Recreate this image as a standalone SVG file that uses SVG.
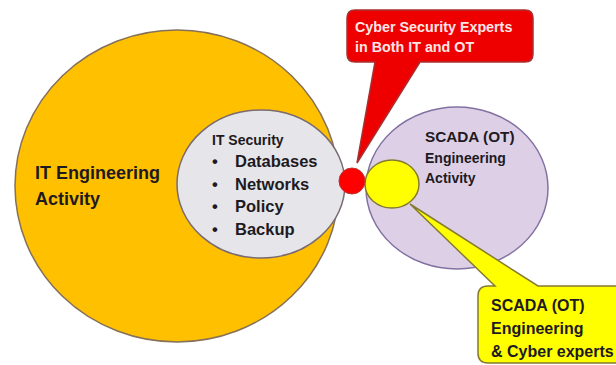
<svg xmlns="http://www.w3.org/2000/svg" width="616" height="365" viewBox="0 0 616 365">
<style>
text{font-family:"Liberation Sans",Arial,sans-serif;font-weight:bold;fill:#1e1a22}
.w{fill:#fde6e6}
</style>
<rect width="616" height="365" fill="#ffffff"/>
<g id="it-engineering">
<ellipse cx="177" cy="186" rx="162" ry="156" fill="#ffc000" stroke="#85705a" stroke-width="1.5"/>
<text x="35" y="179" font-size="18">IT Engineering</text>
<text x="35" y="205" font-size="18">Activity</text>
</g>
<g id="it-security">
<ellipse cx="261" cy="184" rx="84" ry="74" fill="#e6e6ea" stroke="#7a6a72" stroke-width="1.5"/>
<text x="212" y="145" font-size="14">IT Security</text>
<g font-size="16.5">
<text x="212" y="167">•</text><text x="235" y="167">Databases</text>
<text x="212" y="190">•</text><text x="235" y="190">Networks</text>
<text x="212" y="212">•</text><text x="235" y="212">Policy</text>
<text x="212" y="235">•</text><text x="235" y="235">Backup</text>
</g>
</g>
<g id="scada">
<ellipse cx="457" cy="188" rx="91" ry="81" fill="#ddd0e6" stroke="#8272a2" stroke-width="1.5"/>
<text x="425" y="142" font-size="15.3">SCADA (OT)</text>
<text x="425" y="163" font-size="14">Engineering</text>
<text x="425" y="183" font-size="14">Activity</text>
</g>
<g id="scada-cyber-dot">
<ellipse cx="392" cy="184" rx="27" ry="24" fill="#ffff00" stroke="#857a30" stroke-width="1.5"/>
</g>
<g id="both-dot">
<circle cx="352" cy="181" r="13" fill="#ff0000" stroke="#c03030" stroke-width="1"/>
</g>
<g id="connectors">
<g id="callout-red">
<path d="M355,10 H525 Q533,10 533,18 V54 Q533,62 525,62 H420 L357,163 L375,62 H355 Q347,62 347,54 V18 Q347,10 355,10 Z" fill="#ee0000" stroke="#a83030" stroke-width="1.5"/>
<text class="w" x="355" y="32" font-size="14.3">Cyber Security Experts</text>
<text class="w" x="355" y="52" font-size="14.3">in Both IT and OT</text>
</g>
<g id="callout-yellow">
<path d="M488,286 H495 L410,204 L538,286 H630 V363 H488 Q478,363 478,353 V296 Q478,286 488,286 Z" fill="#ffff00" stroke="#857a30" stroke-width="1.5"/>
<text x="491" y="311" font-size="16">SCADA (OT)</text>
<text x="491" y="334" font-size="16">Engineering</text>
<text x="491" y="357" font-size="16">&amp; Cyber experts</text>
</g>
</g>
</svg>
